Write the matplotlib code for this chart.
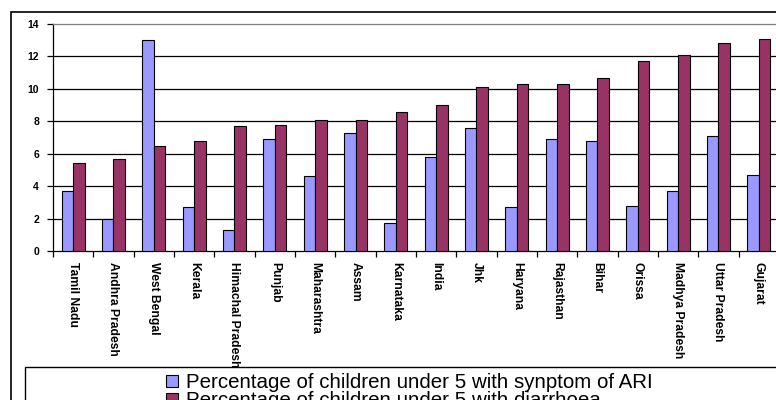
import matplotlib
matplotlib.use("Agg")
import matplotlib.pyplot as plt
from matplotlib.patches import Rectangle
import numpy as np

states = ["Tamil Nadu", "Andhra Pradesh", "West Bengal", "Kerala", "Himachal Pradesh",
          "Punjab", "Maharashtra", "Assam", "Karnataka", "India", "Jhk", "Haryana",
          "Rajasthan", "Bihar", "Orissa", "Madhya Pradesh", "Uttar Pradesh", "Gujarat"]
ari = [3.7, 2.0, 13.0, 2.7, 1.3, 6.9, 4.6, 7.3, 1.7, 5.8, 7.6, 2.7, 6.9, 6.8, 2.8, 3.7, 7.1, 4.7]
diarrhoea = [5.4, 5.7, 6.5, 6.8, 7.7, 7.8, 8.1, 8.1, 8.6, 9.0, 10.1, 10.3, 10.3, 10.7, 11.7, 12.1, 12.8, 13.1]
series_labels = ["Percentage of children under 5 with synptom of ARI",
                 "Percentage of children under 5 with diarrhoea"]
yticks = [0, 2, 4, 6, 8, 10, 12, 14]

W, H = 776, 400
fig = plt.figure(figsize=(W / 100, H / 100), dpi=100)
plt.rcParams["font.family"] = ["Liberation Sans", "DejaVu Sans"]

# outer chart border (runs off the right and bottom edges)
fig.patches.append(Rectangle((11 / W, -0.1), 2, 1 - 12 / H + 0.1,
                             transform=fig.transFigure, fill=False,
                             edgecolor="black", lw=1.2, clip_on=False))

ax = fig.add_axes([53 / W, 1 - 251 / H, (779 - 53) / W, (251 - 24) / H])
x = np.arange(len(states))
bw = 0.285
ax.bar(x - bw / 2, ari, bw, color="#9999FF", edgecolor="black", lw=0.8,
       label=series_labels[0], zorder=3)
ax.bar(x + bw / 2, diarrhoea, bw, color="#993366", edgecolor="black", lw=0.8,
       label=series_labels[1], zorder=3)

ax.set_xlim(-0.5, len(states) - 0.5)
ax.set_ylim(0, 14)
ax.set_yticks(yticks)
ax.set_yticklabels([str(v) for v in yticks], fontsize=7.5, fontweight="bold")
for v in yticks[1:-1]:
    ax.axhline(v, color="black", lw=0.9, zorder=1)

ax.set_xticks(x)
ax.set_xticklabels(states, rotation=270, fontsize=8.7, fontweight="bold",
                   va="top", ha="center")
ax.set_xticks(np.arange(len(states) + 1) - 0.5, minor=True)
ax.tick_params(axis="x", which="major", length=0, pad=8)
ax.tick_params(axis="x", which="minor", length=4, color="black", width=0.9)
ax.tick_params(axis="y", length=4, width=0.9, color="black", pad=6)

ax.spines["top"].set_color("#808080")
ax.spines["right"].set_visible(False)
ax.spines["left"].set_color("black")
ax.spines["bottom"].set_color("black")
for s in ax.spines.values():
    s.set_linewidth(0.9)

# legend box (runs off the right and bottom edges)
fig.patches.append(Rectangle((25 / W, -0.1), 2, 1 - 367 / H + 0.1,
                             transform=fig.transFigure, fill=False,
                             edgecolor="black", lw=1.0, clip_on=False))
handles, labels = ax.get_legend_handles_labels()
fig.legend(handles, labels, loc="upper left", bbox_to_anchor=(166 / W, 1 - 373 / H),
           frameon=False, fontsize=14.8, handlelength=0.6, handleheight=0.5,
           handletextpad=0.35, labelspacing=-0.05, borderaxespad=0, borderpad=0)

fig.savefig("out.png", dpi=100)
